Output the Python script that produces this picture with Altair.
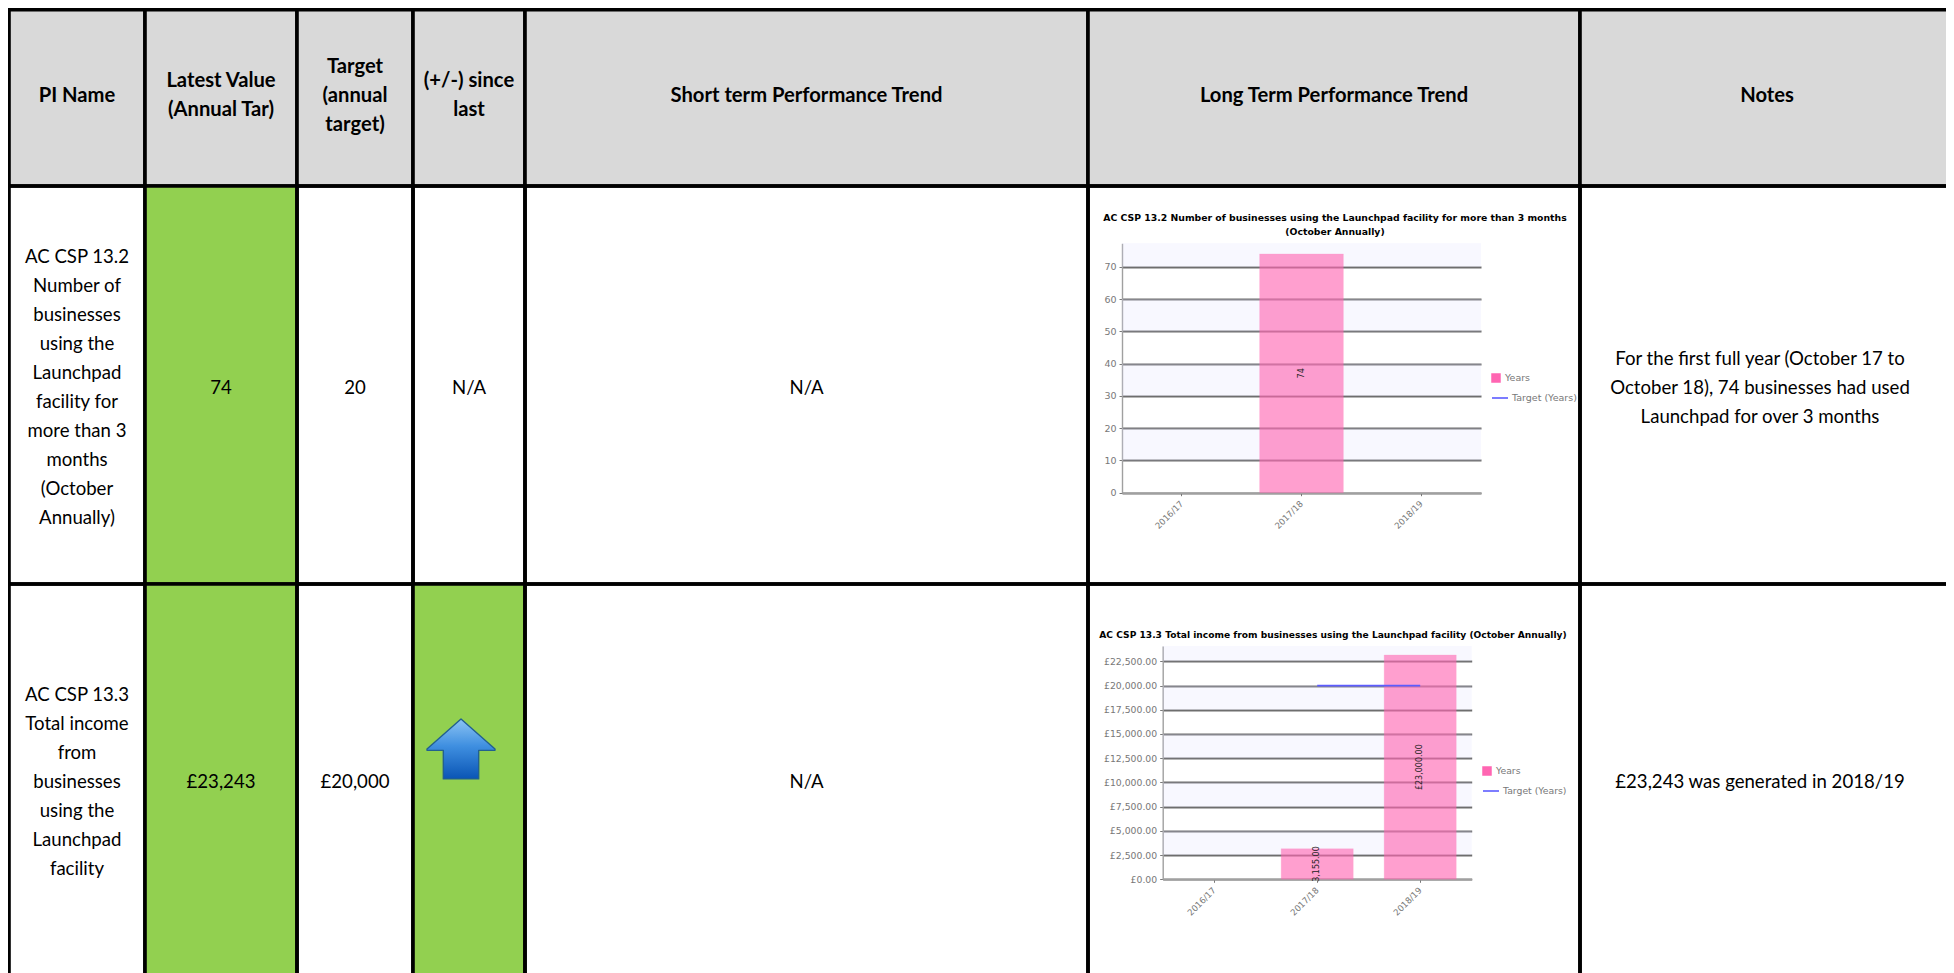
import altair as alt
import pandas as pd

# ---------- chart values ----------
YEARS = ["2016/17", "2017/18", "2018/19"]
BUSINESSES = [None, 74, None]
BUSINESS_LABELS = ["", "74", ""]
BUSINESS_TARGET = [None, 20, None]
BUSINESS_TICKS = [0, 10, 20, 30, 40, 50, 60, 70]
INCOME = [None, 3155, 23150]
INCOME_LABELS = ["", "3,155.00", "£23,000.00"]
INCOME_TARGET = [None, 20000, 20000]
INCOME_TICKS = [0, 2500, 5000, 7500, 10000, 12500, 15000, 17500, 20000, 22500]

HEADERS = ["PI Name", "Latest Value\n(Annual Tar)", "Target\n(annual\ntarget)", "(+/-) since\nlast",
           "Short term Performance Trend", "Long Term Performance Trend", "Notes"]
ROW1 = ["AC CSP 13.2\nNumber of\nbusinesses\nusing the\nLaunchpad\nfacility for\nmore than 3\nmonths\n(October\nAnnually)",
        "74", "20", "N/A", "N/A", "",
        "For the first full year (October 17 to\nOctober 18), 74 businesses had used\nLaunchpad for over 3 months"]
ROW2 = ["AC CSP 13.3\nTotal income\nfrom\nbusinesses\nusing the\nLaunchpad\nfacility",
        "£23,243", "£20,000", "", "N/A", "", "£23,243 was generated in 2018/19"]
TITLE1 = "AC CSP 13.2 Number of businesses using the Launchpad facility for more than 3 months\n(October Annually)"
TITLE2 = "AC CSP 13.3 Total income from businesses using the Launchpad facility (October Annually)"

# ---------- layout (page pixels) ----------
W, H = 1954, 973
COL_EDGES = [9, 145, 297, 413, 525, 1088, 1580, 1962]
ROW_EDGES = [3.5, 186, 584, 977]
ROW_TEXT_NUDGE = [1.2, 2.5, 1.0]
NOTES_BODY_CENTRE = 1760
TOP_VISIBLE = 9.8
LINE_HEIGHT = 29
GREY, GREEN, NONE = "#D9D9D9", "#92D050", "transparent"
FILLS = [[GREY] * 7,
         [NONE, GREEN, NONE, NONE, NONE, NONE, NONE],
         [NONE, GREEN, NONE, GREEN, NONE, NONE, NONE]]
TEXT_FONT = "Lato"
AXIS_GREY = "#787878"
PINK = "#FF66B2"
BLUE = "#5C5CFF"
GRID = "#6E6E6E"

cx = alt.Scale(domain=[0, W], range=[-8, W - 8], nice=False, zero=False)
cy = alt.Scale(domain=[0, H], range=[-8, H - 8], nice=False, zero=False)

cells = []
for r, (rowfills, texts) in enumerate(zip(FILLS, [HEADERS, ROW1, ROW2])):
    for c, (f, t) in enumerate(zip(rowfills, texts)):
        top = ROW_EDGES[r]
        mid = (top + ROW_EDGES[r + 1]) / 2 + ROW_TEXT_NUDGE[r]
        tx = (COL_EDGES[c] + min(COL_EDGES[c + 1], W)) / 2
        if r > 0 and c == 6:
            tx = NOTES_BODY_CENTRE
        cells.append(dict(x0=COL_EDGES[c], x1=COL_EDGES[c + 1],
                          y0=max(top, TOP_VISIBLE), y1=ROW_EDGES[r + 1],
                          tx=tx, ty=mid - (t.count("\n")) * LINE_HEIGHT / 2,
                          fill=f, text=t, row=r))
cells = pd.DataFrame(cells)


def X(field):
    return alt.X(field, type="quantitative", scale=cx, axis=None)


def Y(field):
    return alt.Y(field, type="quantitative", scale=cy, axis=None)


rects = alt.Chart(cells).mark_rect(stroke="black", strokeWidth=3.6).encode(
    x=X("x0"), x2="x1", y=Y("y0"), y2="y1",
    fill=alt.Fill("fill:N", scale=None))


def cell_text(row_test, weight, size):
    return alt.Chart(cells).transform_filter(row_test).mark_text(
        font=TEXT_FONT, fontSize=size, fontWeight=weight, color="black",
        lineBreak="\n", lineHeight=LINE_HEIGHT, baseline="middle", align="center"
    ).encode(x=X("tx"), y=Y("ty"), text="text:N")


head_text = cell_text("datum.row == 0", "bold", 20.2)
body_text = cell_text("datum.row > 0", "normal", 18.6)

# the up arrow in the "(+/-) since last" cell of the second row
arrow = alt.Chart(pd.DataFrame([dict(x=461, y=749, d="up")])).mark_point(
    shape="M0,-0.44 L0.5,0 L0.5,0.02 L0.26,0.02 L0.26,0.44 L-0.26,0.44 L-0.26,0.02 L-0.5,0.02 L-0.5,0 Z",
    size=18500, filled=True, opacity=1,
    fill=alt.Gradient(gradient="linear", x1=0, y1=0, x2=0, y2=1,
                      stops=[alt.GradientStop(offset=0, color="#8CC4F4"),
                             alt.GradientStop(offset=0.45, color="#3F8FE0"),
                             alt.GradientStop(offset=1, color="#0A55B5")]),
    stroke="#22608F", strokeWidth=1.4, strokeJoin="round",
).encode(x=X("x"), y=Y("y"))


def titles(text, x, y, size, lh=13.5):
    y = y - text.count("\n") * lh / 2
    return alt.Chart(pd.DataFrame([dict(x=x, y=y, t=text)])).mark_text(
        font="DejaVu Sans", fontSize=size, fontWeight="bold", color="#000000",
        lineBreak="\n", lineHeight=lh, baseline="middle", align="center"
    ).encode(x=X("x"), y=Y("y"), text="t:N")


def panel(values, labels, target, ticks, top_value, left, right, y_zero, y_top,
          label_size, legend_x, legend_y, fmt, padding=0.3):
    xs = lambda: alt.Scale(domain=YEARS, range=[left - 8, right - 8], paddingInner=padding, paddingOuter=padding / 2)
    ys = lambda: alt.Scale(domain=[0, top_value], range=[y_zero - 8, y_top - 8], nice=False, zero=True)
    df = pd.DataFrame(dict(year=YEARS, value=values, label=labels, target=target))
    df["mid"] = df["value"] / 2
    df["series"] = "Years"
    df["tseries"] = "Target (Years)"

    lows = ticks[1::2]
    highs = ticks[2::2] + [top_value]
    bands = alt.Chart(pd.DataFrame(dict(lo=lows, hi=highs, a=0, b=1))).mark_rect(color="#DFDFFF", opacity=0.22).encode(
        x=alt.X("a:Q", scale=alt.Scale(domain=[0, 1], range=[left - 8, right - 8], nice=False, zero=False), axis=None),
        x2="b",
        y=alt.Y("lo:Q", scale=ys(), axis=None),
        y2="hi")

    bars = alt.Chart(df.dropna(subset=["value"])).mark_bar(opacity=0.62, stroke=PINK, strokeOpacity=0.25).encode(
        x=alt.X("year:N", scale=xs(), sort=YEARS, title=None,
                axis=alt.Axis(orient="bottom", offset=-(H - 8 - (y_zero - 8)), labelAngle=-45, labelAlign="right",
                              labelBaseline="middle", labelFont="DejaVu Sans", labelFontSize=8.6, labelColor=AXIS_GREY,
                              tickColor=AXIS_GREY, tickSize=3, domainColor="#a0a0a0", domainWidth=1.4,
                              labelOverlap=False, grid=False, labelPadding=6)),
        y=alt.Y("value:Q", scale=ys(), title=None,
                axis=alt.Axis(orient="left", offset=-(left - 8), values=ticks, format=fmt, grid=True,
                              gridColor=GRID, gridWidth=1.8, labelFont="DejaVu Sans", labelFontSize=label_size,
                              labelColor=AXIS_GREY, tickColor=AXIS_GREY, tickSize=3, domainColor="#a0a0a0",
                              domainWidth=1.4, labelPadding=3)),
        fill=alt.Fill("series:N", scale=alt.Scale(domain=["Years"], range=[PINK]),
                      legend=alt.Legend(orient="none", legendX=legend_x - 8, legendY=legend_y - 8, title=None,
                                        symbolType="square", symbolSize=64, symbolOpacity=1, labelFont="DejaVu Sans",
                                        labelFontSize=label_size, labelColor=AXIS_GREY, padding=0, labelOffset=4)),
    )

    bar_text = alt.Chart(df.dropna(subset=["value"])).mark_text(
        angle=270, font="DejaVu Sans", fontSize=8, color="#222222", baseline="middle", align="center"
    ).encode(
        x=alt.X("year:N", scale=xs(), sort=YEARS, axis=None),
        y=alt.Y("mid:Q", scale=ys(), axis=None),
        text="label:N")

    line = alt.Chart(df.dropna(subset=["target"])).mark_line(strokeWidth=1.8).encode(
        x=alt.X("year:N", scale=xs(), sort=YEARS, axis=None),
        y=alt.Y("target:Q", scale=ys(), axis=None),
        stroke=alt.Stroke("tseries:N", scale=alt.Scale(domain=["Target (Years)"], range=[BLUE]),
                          legend=alt.Legend(orient="none", legendX=legend_x - 8, legendY=legend_y + 8, title=None,
                                            symbolType="stroke", symbolSize=256, labelFont="DejaVu Sans",
                                            labelFontSize=label_size, labelColor=AXIS_GREY, padding=0, labelOffset=3,
                                            symbolStrokeWidth=1.6)),
    )
    return [bands, bars, bar_text, line]


p1 = panel(BUSINESSES, BUSINESS_LABELS, BUSINESS_TARGET, BUSINESS_TICKS, 77.3, 1122, 1481, 492.7, 243.3,
           9.5, 1491, 373, "d")
p2 = panel(INCOME, INCOME_LABELS, INCOME_TARGET, INCOME_TICKS, 24080, 1162.7, 1471.7, 879.3, 646,
           9.3, 1482, 766, "$,.2f")

layers = [rects, head_text, body_text, arrow,
          titles(TITLE1, 1335, 225, 9.3), titles(TITLE2, 1333, 635, 9.12)] + p1 + p2

chart = alt.layer(*layers).resolve_scale(
    x="independent", y="independent", fill="independent", stroke="independent"
).properties(width=W - 16, height=H - 8, padding=0, autosize=alt.AutoSizeParams(type="none")
).configure_view(stroke=None)

chart.save("out.html", embed_options={"renderer": "svg", "actions": False,
                                      "formatLocale": {"decimal": ".", "thousands": ",", "grouping": [3], "currency": ["£", ""]}})
